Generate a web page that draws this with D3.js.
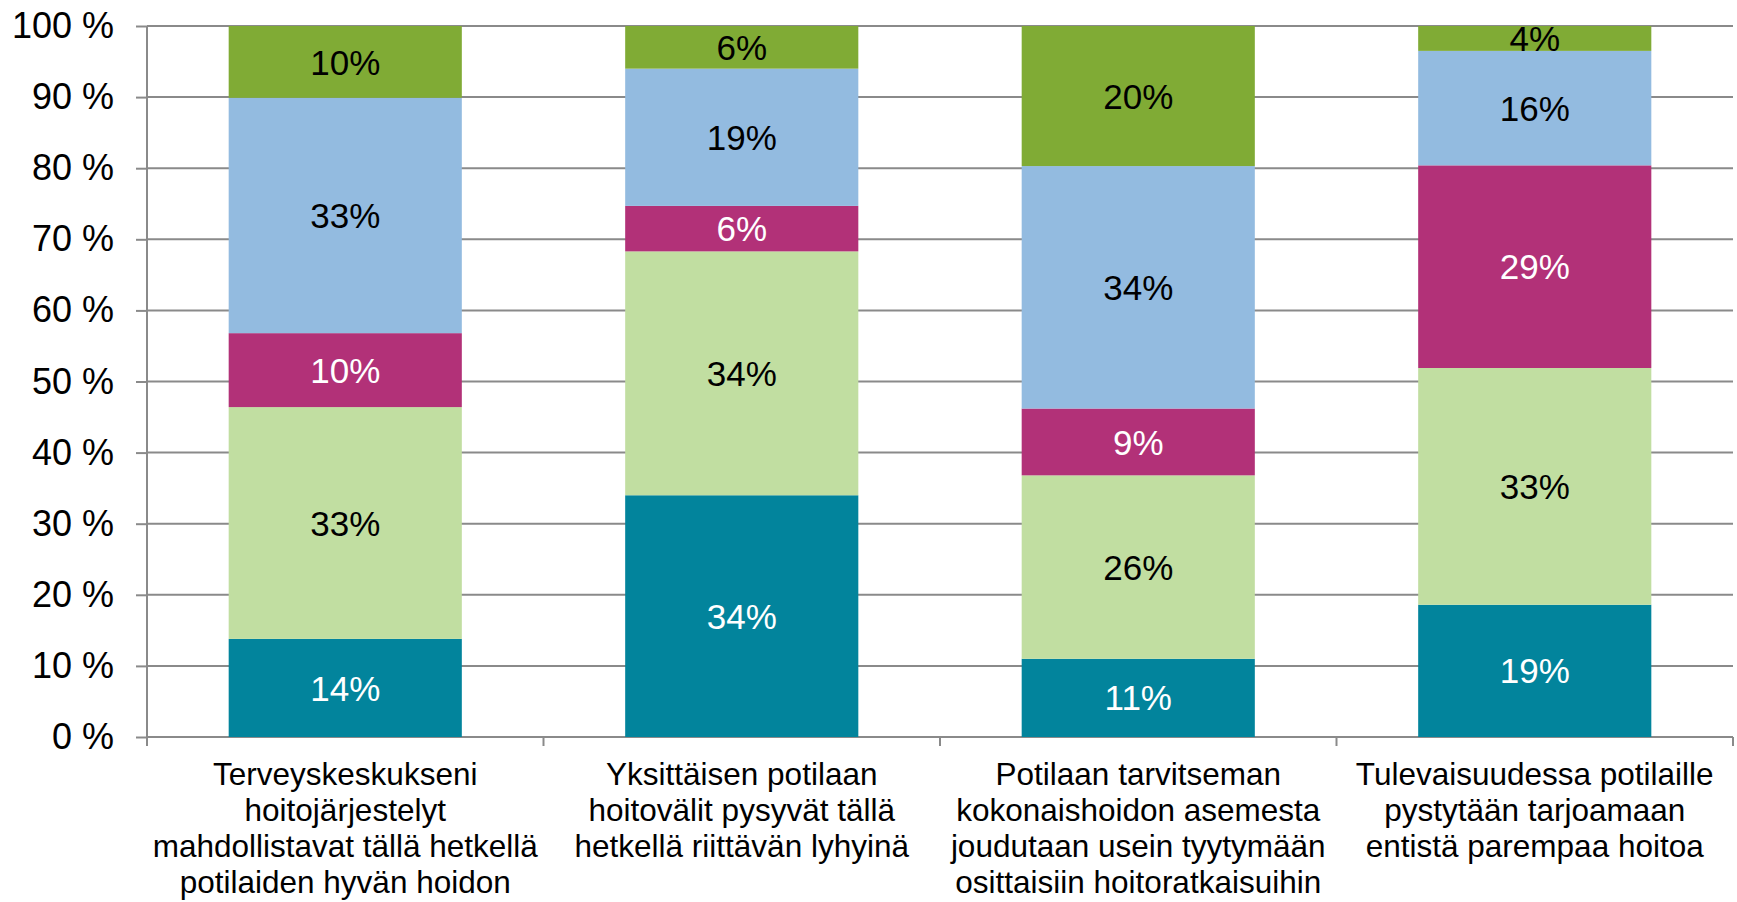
<!DOCTYPE html>
<html>
<head>
<meta charset="utf-8">
<script src="https://cdn.jsdelivr.net/npm/d3@7"></script>
<style>
  body { margin: 0; background: #fff; }
  svg { display: block; font-family: 'Liberation Sans', Arial, sans-serif; }
</style>
</head>
<body>
<div id="chart"></div>
<script>
// category labels, already broken into lines as in the original
const categories = [
  ['Terveyskeskukseni', 'hoitojärjestelyt', 'mahdollistavat tällä hetkellä', 'potilaiden hyvän hoidon'],
  ['Yksittäisen potilaan', 'hoitovälit pysyvät tällä', 'hetkellä riittävän lyhyinä'],
  ['Potilaan tarvitseman', 'kokonaishoidon asemesta', 'joudutaan usein tyytymään', 'osittaisiin hoitoratkaisuihin'],
  ['Tulevaisuudessa potilaille', 'pystytään tarjoamaan', 'entistä parempaa hoitoa']
]

// stacked from bottom to top (no legend in the source)
const seriesKeys = ['s1', 's2', 's3', 's4', 's5']
const s1 = [13.8, 34.0, 11.0, 18.6]
const s2 = [32.6, 34.3, 25.8, 33.3]
const s3 = [10.4, 6.4, 9.4, 28.5]
const s4 = [33.1, 19.3, 34.1, 16.1]
const s5 = [10.1, 6.0, 19.7, 3.5]

const yTicks = [0, 10, 20, 30, 40, 50, 60, 70, 80, 90, 100]

const colors = ['#02849c', '#c1dea1', '#b23178', '#93bbe0', '#80ab35']
const labelColors = ['#fff', '#000', '#fff', '#000', '#000']

const width = 1737
const height = 902
const margin = {top: 26, right: 4, bottom: 165, left: 147}
const innerW = width - margin.left - margin.right
const innerH = height - margin.top - margin.bottom

const table = categories.map((c, i) => ({
  idx: i, s1: s1[i], s2: s2[i], s3: s3[i], s4: s4[i], s5: s5[i]
}))

const svg = d3.select('#chart').append('svg')
  .attr('width', width)
  .attr('height', height)

const g = svg.append('g')
  .attr('transform', 'translate(' + margin.left + ',' + margin.top + ')')

const x = d3.scaleBand()
  .domain(categories.map((c, i) => i))
  .range([0, innerW])
  .paddingInner(0.412)
  .paddingOuter(0.206)

const y = d3.scaleLinear()
  .domain([0, 100])
  .range([innerH, 0])

const gridColor = '#8a8a8a'

// horizontal gridlines + y axis
const yAxis = d3.axisLeft(y)
  .tickValues(yTicks)
  .tickSize(11)
  .tickPadding(22)
  .tickFormat(d => d + ' %')

g.append('g')
  .selectAll('line')
  .data(yTicks)
  .join('line')
  .attr('x1', 0)
  .attr('x2', innerW)
  .attr('y1', d => y(d))
  .attr('y2', d => y(d))
  .attr('stroke', gridColor)
  .attr('stroke-width', 2)

const yG = g.append('g').call(yAxis)
yG.select('.domain').remove()
yG.selectAll('.tick line').attr('stroke', gridColor).attr('stroke-width', 2)
yG.selectAll('.tick text')
  .attr('fill', '#000')
  .attr('font-size', 36)
  .attr('font-family', "'Liberation Sans', Arial, sans-serif")

g.append('line')
  .attr('x1', 0).attr('x2', 0)
  .attr('y1', 0).attr('y2', innerH + 9)
  .attr('stroke', gridColor)
  .attr('stroke-width', 2)

// category separators below the axis
const step = x.step()
g.append('g')
  .selectAll('line')
  .data(d3.range(categories.length + 1))
  .join('line')
  .attr('x1', d => d * step)
  .attr('x2', d => d * step)
  .attr('y1', innerH)
  .attr('y2', innerH + 9)
  .attr('stroke', gridColor)
  .attr('stroke-width', 2)

// stacked bars
const stacked = d3.stack().keys(seriesKeys)(table)

const layers = g.append('g')
  .selectAll('g')
  .data(stacked)
  .join('g')
  .attr('fill', (d, i) => colors[i])

layers.selectAll('rect')
  .data(d => d)
  .join('rect')
  .attr('x', d => x(d.data.idx))
  .attr('width', x.bandwidth())
  .attr('y', d => y(d[1]))
  .attr('height', d => y(d[0]) - y(d[1]))

// value labels
stacked.forEach((layer, li) => {
  g.append('g')
    .selectAll('text')
    .data(layer)
    .join('text')
    .attr('x', d => x(d.data.idx) + x.bandwidth() / 2)
    .attr('y', d => (y(d[0]) + y(d[1])) / 2)
    .attr('dy', '0.36em')
    .attr('text-anchor', 'middle')
    .attr('font-size', 35)
    .attr('fill', labelColors[li])
    .text(d => Math.round(d[1] - d[0]) + '%')
})

// category labels
const catG = g.append('g')
  .selectAll('text')
  .data(categories)
  .join('text')
  .attr('x', (d, i) => x(i) + x.bandwidth() / 2)
  .attr('y', innerH + 48)
  .attr('text-anchor', 'middle')
  .attr('font-size', 31.5)
  .attr('fill', '#000')

catG.selectAll('tspan')
  .data(d => d)
  .join('tspan')
  .attr('x', function () { return d3.select(this.parentNode).attr('x') })
  .attr('dy', (d, i) => i === 0 ? 0 : 36)
  .text(d => d)
</script>
</body>
</html>
